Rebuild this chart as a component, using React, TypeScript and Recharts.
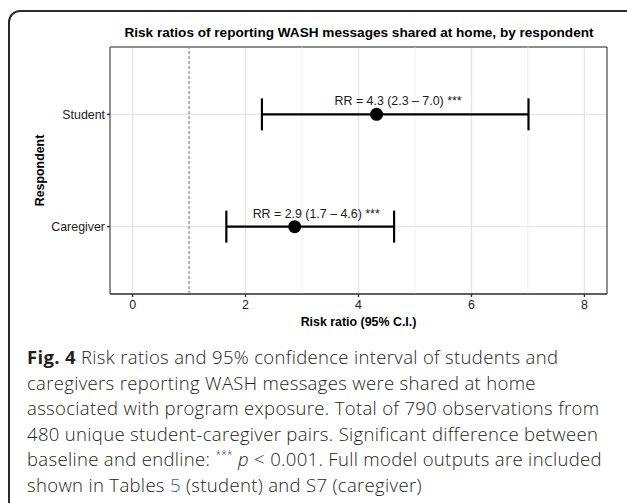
import React from 'react'
import {
  ScatterChart, Scatter, XAxis, YAxis, CartesianGrid, ErrorBar,
  ReferenceLine, ReferenceArea,
} from 'recharts'

const respondents = ['Caregiver', 'Student']
const riskRatio = [2.87, 4.32]
const ciLower = [1.66, 2.29]
const ciUpper = [4.63, 7.01]
const rrLabels = ['RR = 2.9 (1.7 – 4.6) ***', 'RR = 4.3 (2.3 – 7.0) ***']

const majorTicks = [0, 2, 4, 6, 8]
const minorTicks = [1, 3, 5, 7]
const nullEffect = 1

const FONT = '"Liberation Sans", Arial, Helvetica, sans-serif'

const dados = respondents.map((name, i) => ({
  name,
  pos: i + 1,
  rr: riskRatio[i],
  err: [riskRatio[i] - ciLower[i], ciUpper[i] - riskRatio[i]],
  label: rrLabels[i],
}))

function PointShape(props: any) {
  const { cx, cy, payload } = props
  return (
    <g>
      <circle cx={cx} cy={cy} r={6.5} fill="#000" />
      <text x={cx - 42} y={cy - 9} fontSize={12.4} fontFamily={FONT} fill="#1a1a1a">
        {payload.label}
      </text>
    </g>
  )
}

const line = { height: 25.6, lineHeight: '25.6px' }

export default function App() {
  return (
    <div style={{ position: 'absolute', left: 0, top: 0, width: 627, height: 503, overflow: 'hidden', background: '#fff' }}>
      <div
        style={{
          position: 'absolute', left: 8, top: 10, width: 660, height: 540,
          border: '2px solid #2b2b2b', borderRadius: 12, boxSizing: 'border-box',
        }}
      />
      <div style={{ position: 'absolute', left: 0, top: 0 }}>
        <ScatterChart width={627} height={345} margin={{ top: 47, right: 20, bottom: 11, left: 0 }}>
          <text x={359} y={37} textAnchor="middle" fontSize={13.6} fontWeight="bold" fontFamily={FONT} fill="#000">
            Risk ratios of reporting WASH messages shared at home, by respondent
          </text>
          <CartesianGrid stroke="#e6e6e6" strokeWidth={1.4} />
          {minorTicks.map((t) => (
            <ReferenceLine key={t} x={t} stroke="#ececec" strokeWidth={0.8} />
          ))}
          <ReferenceLine x={nullEffect} stroke="#555" strokeWidth={0.8} strokeDasharray="3 2" />
          <XAxis
            type="number"
            dataKey="rr"
            domain={[-0.4, 8.4]}
            ticks={majorTicks}
            allowDataOverflow
            height={40}
            tickSize={3}
            tickMargin={3}
            axisLine={{ stroke: '#333', strokeWidth: 1 }}
            tickLine={{ stroke: '#333', strokeWidth: 1.4 }}
            tick={{ fontSize: 12.4, fill: '#222', fontFamily: FONT }}
            label={{
              content: (p: any) => (
                <text
                  x={p.viewBox.x + p.viewBox.width / 2}
                  y={p.viewBox.y + 32}
                  textAnchor="middle"
                  fontSize={12.4}
                  fontWeight="bold"
                  fontFamily={FONT}
                  fill="#000"
                >
                  Risk ratio (95% C.I.)
                </text>
              ),
            }}
          />
          <YAxis
            type="number"
            dataKey="pos"
            domain={[0.4, 2.6]}
            ticks={[1, 2]}
            allowDataOverflow
            width={110}
            tickSize={3}
            tickMargin={2}
            tickFormatter={(v: number) => respondents[v - 1] ?? ''}
            axisLine={false}
            tickLine={{ stroke: '#333', strokeWidth: 1.4 }}
            tick={{ fontSize: 12.4, fill: '#222', fontFamily: FONT }}
            label={{
              content: (p: any) => {
                const cx = p.viewBox.x + 40
                const cy = p.viewBox.y + p.viewBox.height / 2
                return (
                  <text
                    x={cx}
                    y={cy}
                    transform={`rotate(-90 ${cx} ${cy})`}
                    textAnchor="middle"
                    dominantBaseline="central"
                    fontSize={12.4}
                    fontWeight="bold"
                    fontFamily={FONT}
                    fill="#000"
                  >
                    Respondent
                  </text>
                )
              },
            }}
          />
          <ReferenceArea x1={-0.4} x2={8.4} y1={0.4} y2={2.6} fill="none" stroke="#333" strokeWidth={1} />
          <Scatter data={dados} isAnimationActive={false} shape={PointShape}>
            <ErrorBar dataKey="err" direction="x" width={16} strokeWidth={2.2} stroke="#000" />
          </Scatter>
        </ScatterChart>
      </div>
      <div
        style={{
          position: 'absolute', left: 27, top: 344, width: 600,
          fontFamily: '"Open Sans", "Noto Sans", sans-serif', fontSize: 18.5, fontWeight: 300,
          letterSpacing: 0.33, color: '#231f20', whiteSpace: 'nowrap',
        }}
      >
        <div style={line}><b style={{ fontWeight: 700 }}>Fig. 4</b> Risk ratios and 95% confidence interval of students and</div>
        <div style={line}>caregivers reporting WASH messages were shared at home</div>
        <div style={line}>associated with program exposure. Total of 790 observations from</div>
        <div style={line}>480 unique student-caregiver pairs. Significant difference between</div>
        <div style={line}>
          baseline and endline: <span style={{ fontSize: 10, position: 'relative', top: -8 }}>***</span> <i>p</i> &lt; 0.001. Full model outputs are included
        </div>
        <div style={line}>shown in Tables <span style={{ color: '#1f5fbf' }}>5</span> (student) and S7 (caregiver)</div>
      </div>
    </div>
  )
}
